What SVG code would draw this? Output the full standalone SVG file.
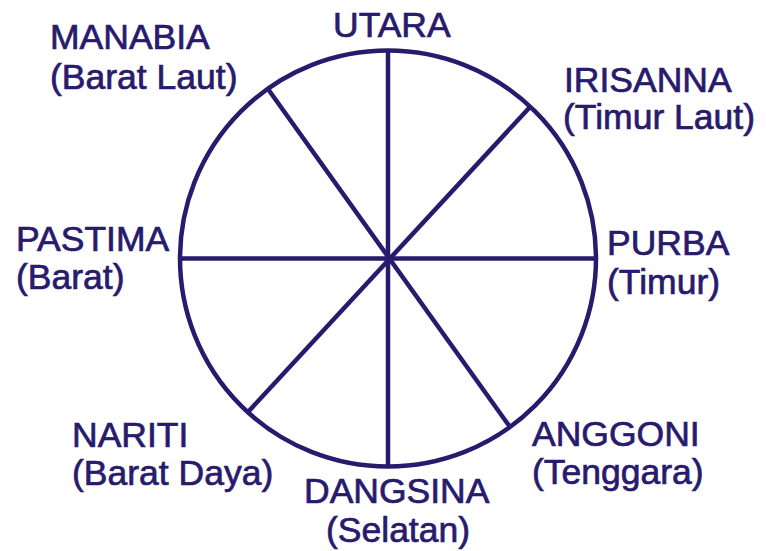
<svg xmlns="http://www.w3.org/2000/svg" width="766" height="551" viewBox="0 0 766 551">
<style>
.ln{stroke:#281a6c;stroke-width:4.5;fill:none;stroke-linecap:butt}
text{font-family:"Liberation Sans",Arial,sans-serif;font-size:35.5px;fill:#281a6c;stroke:#281a6c;stroke-width:0.7}
</style>
<rect width="766" height="551" fill="#ffffff"/>
<g id="connectors">
<circle class="ln" cx="388" cy="258.5" r="208"/>
<line class="ln" x1="388" y1="50.5" x2="388" y2="466.5"/>
<line class="ln" x1="180" y1="258.5" x2="596" y2="258.5"/>
<line class="ln" x1="268" y1="89" x2="510" y2="427"/>
<line class="ln" x1="530" y1="107" x2="248" y2="412"/>
</g>
<g id="utara"><text x="333" y="37">UTARA</text></g>
<g id="manabia"><text x="50" y="49">MANABIA</text><text x="50" y="89">(Barat Laut)</text></g>
<g id="irisanna"><text x="564" y="92">IRISANNA</text><text x="563" y="129">(Timur Laut)</text></g>
<g id="pastima"><text x="16" y="251">PASTIMA</text><text x="16" y="289">(Barat)</text></g>
<g id="purba"><text x="607" y="255">PURBA</text><text x="607" y="294">(Timur)</text></g>
<g id="nariti"><text x="72" y="447">NARITI</text><text x="72" y="485">(Barat Daya)</text></g>
<g id="dangsina"><text x="304" y="503">DANGSINA</text><text x="326" y="542">(Selatan)</text></g>
<g id="anggoni"><text x="532" y="446">ANGGONI</text><text x="532" y="484">(Tenggara)</text></g>
</svg>
